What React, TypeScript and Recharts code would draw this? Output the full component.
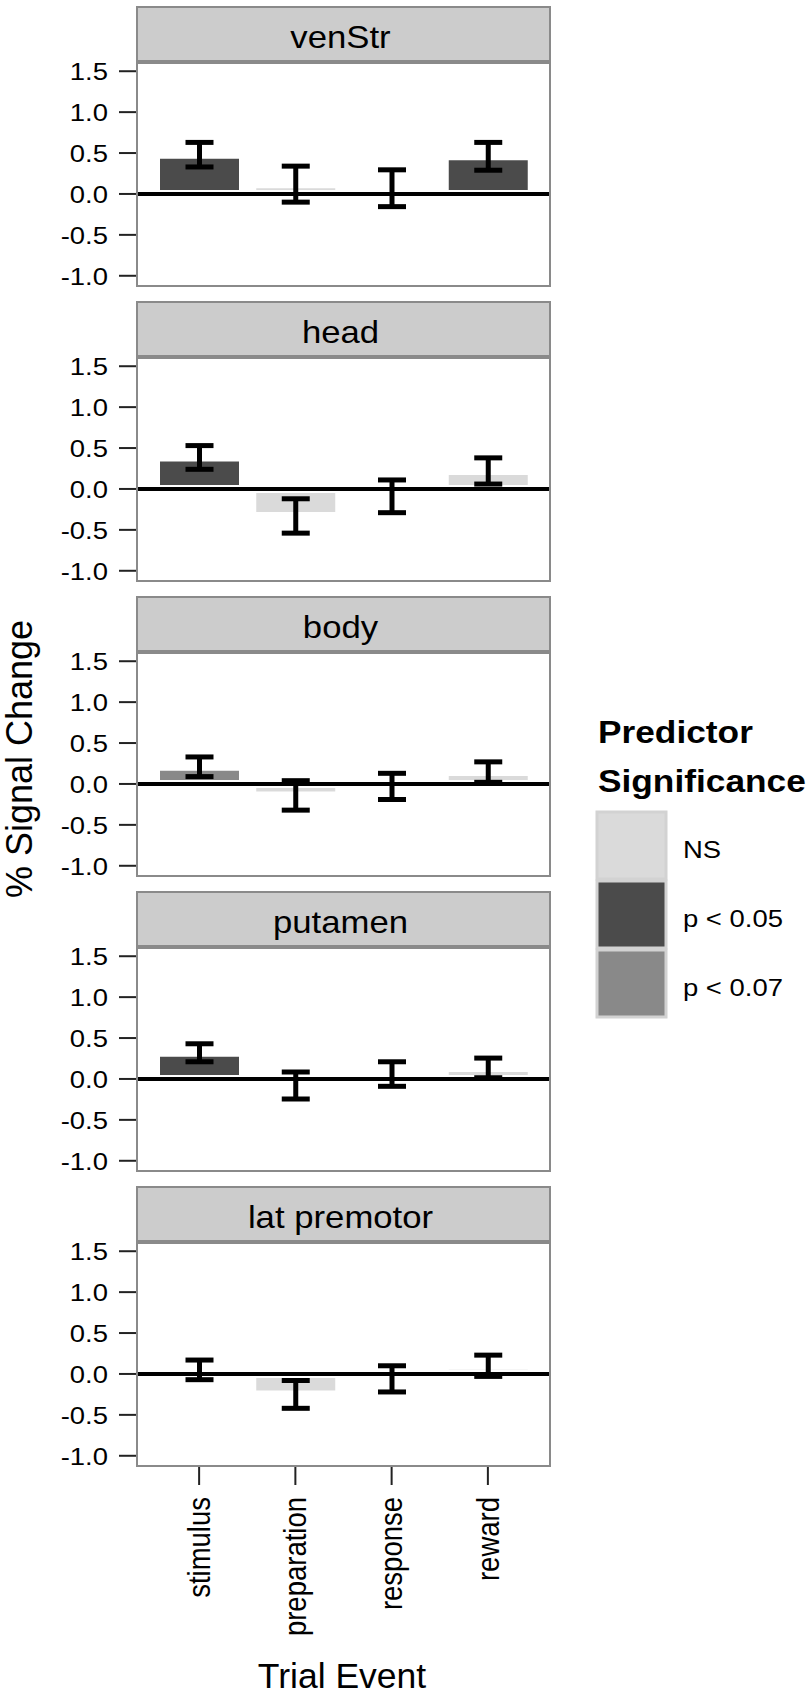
import { BarChart, Bar, XAxis, YAxis, ErrorBar, Cell, ReferenceLine } from "recharts";

const EVENTS = ["stimulus", "preparation", "response", "reward"];
const REGIONS = ["venStr", "head", "body", "putamen", "lat premotor"];

const Y_TICKS = [-1, -0.5, 0, 0.5, 1, 1.5];
const Y_DOMAIN = [-1.125, 1.625];

const SIG_LEVELS = ["NS", "p < 0.05", "p < 0.07"];
const SIG_COLORS = ["#dadada", "#4b4b4b", "#898989"];

// mean % signal change and standard error, one value per trial event
const VENSTR_MEAN = [0.48, 0.12, 0.07, 0.46];
const VENSTR_SE = [0.15, 0.22, 0.225, 0.17];
const VENSTR_SIG = ["p < 0.05", "NS", "NS", "p < 0.05"];

const HEAD_MEAN = [0.385, -0.33, -0.09, 0.22];
const HEAD_SE = [0.145, 0.21, 0.2, 0.16];
const HEAD_SIG = ["p < 0.05", "NS", "NS", "NS"];

const BODY_MEAN = [0.21, -0.14, -0.03, 0.145];
const BODY_SE = [0.12, 0.18, 0.16, 0.125];
const BODY_SIG = ["p < 0.07", "NS", "NS", "NS"];

const PUTAMEN_MEAN = [0.32, -0.08, 0.06, 0.135];
const PUTAMEN_SE = [0.11, 0.165, 0.15, 0.12];
const PUTAMEN_SIG = ["p < 0.05", "NS", "NS", "NS"];

const LATPM_MEAN = [0.05, -0.25, -0.06, 0.1];
const LATPM_SE = [0.12, 0.17, 0.16, 0.13];
const LATPM_SIG = ["NS", "NS", "NS", "NS"];

const PANELS = [
  { mean: VENSTR_MEAN, se: VENSTR_SE, sig: VENSTR_SIG },
  { mean: HEAD_MEAN, se: HEAD_SE, sig: HEAD_SIG },
  { mean: BODY_MEAN, se: BODY_SE, sig: BODY_SIG },
  { mean: PUTAMEN_MEAN, se: PUTAMEN_SE, sig: PUTAMEN_SIG },
  { mean: LATPM_MEAN, se: LATPM_SE, sig: LATPM_SIG },
];

const FONT = "'Liberation Sans', Arial, Helvetica, sans-serif";
const SX = 1.12; // glyphs in the figure are a bit wider than tall

const LEFT = 137;
const RIGHT = 550;
const TOP0 = 6;
const STEP = 295;
const STRIP_H = 55;
const PLOT_H = 225;
const PAD = 16; // room above/below the plot so tick labels are not clipped
const X_AXIS_H = 230;
const BORDER = "#8a8a8a";

function colorFor(sig: string) {
  return SIG_COLORS[SIG_LEVELS.indexOf(sig)];
}

function YTick(props: any) {
  const { x, y, payload } = props;
  return (
    <text
      transform={`translate(${x} ${y}) scale(${SX} 1)`}
      dy="0.36em"
      textAnchor="end"
      fontSize={24.5}
      fill="#000"
      fontFamily={FONT}
    >
      {Number(payload.value).toFixed(1)}
    </text>
  );
}

function XTick(props: any) {
  const { x, y, payload } = props;
  return (
    <text
      transform={`translate(${x} ${y}) scale(${SX} 1) rotate(-90)`}
      dy="0.35em"
      textAnchor="end"
      fontSize={27.5}
      fill="#000"
      fontFamily={FONT}
    >
      {payload.value}
    </text>
  );
}

function Panel({ index }: { index: number }) {
  const { mean, se, sig } = PANELS[index];
  const showX = index === PANELS.length - 1;
  const data = EVENTS.map((event, i) => ({ event, mean: mean[i], se: se[i], sig: sig[i] }));
  const top = TOP0 + STEP * index + STRIP_H - PAD;

  return (
    <div style={{ position: "absolute", left: 0, top }}>
      <BarChart
        width={RIGHT + 10}
        height={PAD + PLOT_H + (showX ? X_AXIS_H : PAD)}
        data={data}
        margin={{ top: PAD, right: 10, bottom: showX ? 0 : PAD, left: 0 }}
      >
        <XAxis
          dataKey="event"
          hide={!showX}
          height={X_AXIS_H}
          padding={{ left: 14, right: 14 }}
          axisLine={false}
          tickLine={{ stroke: "#222", strokeWidth: 2 }}
          tickSize={19}
          tickMargin={12}
          tick={<XTick />}
          interval={0}
        />
        <YAxis
          domain={Y_DOMAIN}
          ticks={Y_TICKS}
          width={LEFT}
          axisLine={false}
          tickLine={{ stroke: "#222", strokeWidth: 2 }}
          tickSize={18}
          tickMargin={11}
          tick={<YTick />}
          interval={0}
        />
        <Bar dataKey="mean" barSize={87} stroke="#ffffff" strokeWidth={8} isAnimationActive={false}>
          {data.map((d) => (
            <Cell key={d.event} fill={colorFor(d.sig)} />
          ))}
          <ErrorBar dataKey="se" width={14} strokeWidth={5} stroke="#000" />
        </Bar>
        <ReferenceLine y={0} stroke="#000" strokeWidth={4} />
      </BarChart>
    </div>
  );
}

function Frames() {
  return (
    <svg
      width={812}
      height={1700}
      style={{ position: "absolute", left: 0, top: 0, pointerEvents: "none" }}
      fontFamily={FONT}
    >
      {REGIONS.map((name, i) => {
        const t = TOP0 + STEP * i;
        const cx = (LEFT + RIGHT) / 2 - 3;
        return (
          <g key={name}>
            <rect x={LEFT} y={t + 1} width={RIGHT - LEFT} height={STRIP_H} fill="#cccccc" stroke={BORDER} strokeWidth={2} />
            <rect x={LEFT} y={t + STRIP_H} width={RIGHT - LEFT} height={PLOT_H} fill="none" stroke={BORDER} strokeWidth={2} />
            <line x1={LEFT} x2={RIGHT} y1={t + 56} y2={t + 56} stroke={BORDER} strokeWidth={4} />
            <text
              transform={`translate(${cx} ${t + 42}) scale(${SX} 1)`}
              textAnchor="middle"
              fontSize={31}
              fill="#000"
            >
              {name}
            </text>
          </g>
        );
      })}

      <text transform="translate(32 759) rotate(-90)" textAnchor="middle" fontSize={36} fill="#000">
        % Signal Change
      </text>
      <text x={342} y={1688} textAnchor="middle" fontSize={35.5} fill="#000">
        Trial Event
      </text>

      <text transform={`translate(598 743) scale(${SX} 1)`} fontSize={31.5} fontWeight="bold" fill="#000">
        Predictor
      </text>
      <text transform={`translate(598 792) scale(${SX} 1)`} fontSize={31.5} fontWeight="bold" fill="#000">
        Significance
      </text>
      {SIG_LEVELS.map((lvl, i) => {
        const y = 812 + i * 69;
        return (
          <g key={lvl}>
            <rect x={597} y={y} width={69} height={67} fill={SIG_COLORS[i]} stroke="#d2d2d2" strokeWidth={3} />
            <text transform={`translate(683 ${y + 46}) scale(${SX} 1)`} fontSize={24.5} fill="#000">
              {lvl}
            </text>
          </g>
        );
      })}
    </svg>
  );
}

export default function App() {
  return (
    <div style={{ position: "absolute", left: 0, top: 0, width: 812, height: 1700, background: "#fff", fontFamily: FONT }}>
      {REGIONS.map((name, i) => (
        <Panel key={name} index={i} />
      ))}
      <Frames />
    </div>
  );
}
